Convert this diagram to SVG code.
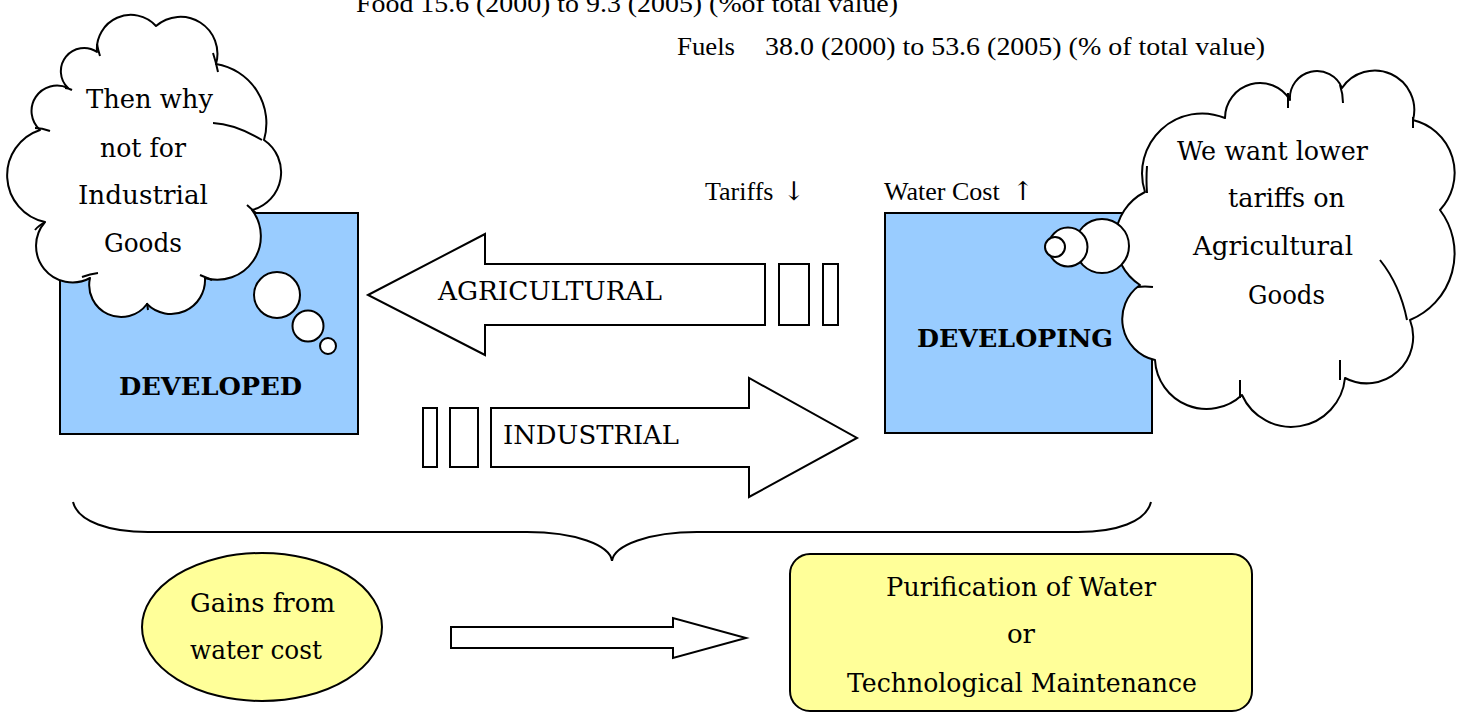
<svg xmlns="http://www.w3.org/2000/svg" width="1462" height="713" viewBox="0 0 1462 713">
<style>
.box{fill:#99CCFF;stroke:#000;stroke-width:2}
.cloud{fill:#fff;stroke:#000;stroke-width:2;stroke-linejoin:round}
.tick{fill:none;stroke:#000;stroke-width:2}
.hollow{fill:#fff;stroke:#000;stroke-width:2}
.yel{fill:#FFFF99;stroke:#000;stroke-width:2}
.brace{fill:none;stroke:#000;stroke-width:2}
.c{font-family:"DejaVu Serif","Liberation Serif",serif;font-size:26px;fill:#000}
.b{font-family:"DejaVu Serif","Liberation Serif",serif;font-size:25px;font-weight:bold;fill:#000}
.t{font-family:"Liberation Serif",serif;font-size:26px;fill:#000}
.arr{font-family:"DejaVu Serif",serif;fill:#000}
</style>
<rect width="1462" height="713" fill="#fff"/>

<g id="header">
<text class="t" x="356" y="12" textLength="542" lengthAdjust="spacingAndGlyphs">Food 15.6 (2000) to 9.3 (2005) (%of total value)</text>
<text class="t" x="677" y="55" textLength="58" lengthAdjust="spacingAndGlyphs">Fuels</text>
<text class="t" x="765" y="55" textLength="500" lengthAdjust="spacingAndGlyphs">38.0 (2000) to 53.6 (2005) (% of total value)</text>
</g>

<g id="developed">
<rect class="box" x="60" y="213" width="298" height="221"/>
<text class="b" x="119" y="395" textLength="183" lengthAdjust="spacingAndGlyphs">DEVELOPED</text>
</g>

<g id="cloud-left">
<path class="cloud" d="M97,52 A34,34 0 0 1 156,26 A37,37 0 0 1 216,64 A60,60 0 0 1 264,140 A39,39 0 0 1 252,210 A43.5,43.5 0 0 1 205,278 A34,34 0 0 1 147,304 A32,32 0 0 1 90,278 A36.5,36.5 0 0 1 45,222 A47.7,47.7 0 0 1 40,130 A25.5,25.5 0 0 1 68,88 A23.2,23.2 0 0 1 97,52 Z"/>
<path class="tick" d="M97,44 Q98,50 100,56 M213,53 Q216,62 218,72 M213,123 Q235,124 262,140 M247,205 L256,213 M200,275 L212,280 M147,303 L148,310 M82,277 Q90,274 98,273 M45,222 Q38,226 35,230 M35,128 Q42,128 50,131 M65,88 Q68,88 72,90"/>
<text class="c" x="86" y="108" textLength="127" lengthAdjust="spacingAndGlyphs">Then why</text>
<text class="c" x="100" y="157" textLength="86" lengthAdjust="spacingAndGlyphs">not for</text>
<text class="c" x="78" y="204" textLength="130" lengthAdjust="spacingAndGlyphs">Industrial</text>
<text class="c" x="104" y="252" textLength="78" lengthAdjust="spacingAndGlyphs">Goods</text>
<circle class="cloud" cx="277" cy="295" r="23"/>
<circle class="cloud" cx="308" cy="326" r="15.5"/>
<circle class="cloud" cx="328" cy="346" r="8"/>
</g>

<g id="developing">
<rect class="box" x="885" y="213" width="267" height="220"/>
<text class="b" x="917" y="347" textLength="196" lengthAdjust="spacingAndGlyphs">DEVELOPING</text>
</g>

<g id="cloud-right">
<path class="cloud" d="M1225,118 A35,35 0 0 1 1290,100 A27,27 0 0 1 1342,88 A39.5,39.5 0 0 1 1413,120 A54.4,54.4 0 0 1 1440,210 A72,72 0 0 1 1410,320 A46.5,46.5 0 0 1 1345,378 A54,54 0 0 1 1242,395 A51.7,51.7 0 0 1 1155,360 A41.8,41.8 0 0 1 1140,285 A53.6,53.6 0 0 1 1145,192 A60,60 0 0 1 1225,118 Z"/>
<path class="tick" d="M1288,93 L1288,108 M1340,85 Q1343,94 1343,103 M1413,117 L1413,128 M1380,260 Q1400,285 1407,320 M1340,360 L1340,380 M1240,380 L1240,398 M1137,287 Q1145,286 1153,287 M1147,193 Q1146,180 1147,166"/>
<text class="c" x="1177" y="160" textLength="191" lengthAdjust="spacingAndGlyphs">We want lower</text>
<text class="c" x="1228" y="207" textLength="117" lengthAdjust="spacingAndGlyphs">tariffs on</text>
<text class="c" x="1193" y="255" textLength="160" lengthAdjust="spacingAndGlyphs">Agricultural</text>
<text class="c" x="1248" y="304" textLength="77" lengthAdjust="spacingAndGlyphs">Goods</text>
<circle class="cloud" cx="1102" cy="246" r="27"/>
<circle class="cloud" cx="1068" cy="247" r="19.5"/>
<circle class="cloud" cx="1055" cy="247" r="10"/>
</g>

<g id="labels">
<text class="t" x="705" y="200" font-size="25">Tariffs <tspan class="arr" x="783">↓</tspan></text>
<text class="t" x="884" y="200" font-size="25">Water Cost <tspan class="arr" x="1012">↑</tspan></text>
</g>

<g id="connectors">
<g id="agri-arrow">
<polygon class="hollow" points="368,295 485,234 485,264 765,264 765,325 485,325 485,355"/>
<rect class="hollow" x="779" y="264" width="30" height="61"/>
<rect class="hollow" x="823" y="264" width="15" height="61"/>
<text class="c" x="438" y="300" textLength="224" lengthAdjust="spacingAndGlyphs">AGRICULTURAL</text>
</g>
<g id="ind-arrow">
<polygon class="hollow" points="491,408 749,408 749,378 857,438 749,497 749,467 491,467"/>
<rect class="hollow" x="423" y="408" width="14" height="59"/>
<rect class="hollow" x="450" y="408" width="28" height="59"/>
<text class="c" x="503" y="444" textLength="176" lengthAdjust="spacingAndGlyphs">INDUSTRIAL</text>
</g>
<path class="brace" d="M73,502 C78,522 110,532 148,532 L527,532 C575,532 610,545 612,561 C614,545 650,532 697,532 L1078,532 C1116,532 1146,522 1151,502"/>
<polygon class="hollow" points="451,627 673,627 673,618 746,638 673,658 673,648 451,648"/>
</g>

<g id="gains">
<ellipse class="yel" cx="262" cy="627" rx="120" ry="74"/>
<text class="c" x="190" y="612" textLength="145" lengthAdjust="spacingAndGlyphs">Gains from</text>
<text class="c" x="190" y="659" textLength="132" lengthAdjust="spacingAndGlyphs">water cost</text>
</g>

<g id="purification">
<rect class="yel" x="790" y="554" width="462" height="157" rx="20" ry="20"/>
<text class="c" x="1021" y="596" text-anchor="middle" textLength="270" lengthAdjust="spacingAndGlyphs">Purification of Water</text>
<text class="c" x="1021" y="643" text-anchor="middle">or</text>
<text class="c" x="1022" y="692" text-anchor="middle" textLength="350" lengthAdjust="spacingAndGlyphs">Technological Maintenance</text>
</g>
</svg>
